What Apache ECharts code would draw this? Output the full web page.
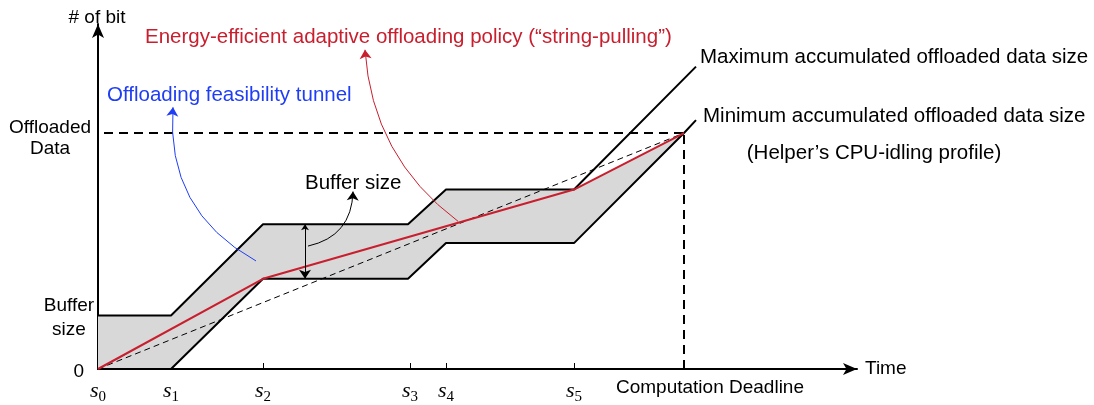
<!DOCTYPE html>
<html>
<head>
<meta charset="utf-8">
<script src="https://cdn.jsdelivr.net/npm/echarts@6/dist/echarts.min.js"></script>
<style>html,body{margin:0;padding:0;background:#fff}#c{width:1094px;height:405px}</style>
</head>
<body>
<div id="c"></div>
<script>
// ---- data (schematic units) ----
const stagePoints = [0, 73, 165, 312, 348, 476];      // s0..s5
const stageIndex  = ['0', '1', '2', '3', '4', '5'];
const deadline = 586;
const bufferSize = 54;
const offloadedData = 238;
const maxCurve = [[0, 54], [73, 54], [165, 146], [310, 146], [348, 181], [476, 181], [598, 305]];
const minCurve = [[0, 0], [73, 0], [165, 91], [310, 91], [348, 127], [476, 127], [586, 238], [598, 251]];
const policy   = [[0, 0], [165, 91], [476, 181], [586, 238]];
const straight = [[0, 0], [586, 238]];
const yLabels = ['0', 'Buffer\nsize', 'Offloaded\nData'];

const FONT = "'Liberation Sans', Arial, Helvetica, sans-serif";
const RED = '#c81e2d';
const BLUE = '#1f3df5';
const BIG = '20.5px ';
const MID = '19px ';

const chart = echarts.init(document.getElementById('c'), null, {renderer: 'canvas'});

// tunnel polygon: upper edge = max curve up to s5 then the policy to the deadline; lower edge = min curve to deadline
const upperEdge = maxCurve.filter(p => p[0] <= stagePoints[5]).concat([policy[policy.length - 1]]);
const lowerEdge = minCurve.filter(p => p[0] <= deadline);

const option = {
  animation: false,
  grid: {left: 98, right: 237, top: 24, bottom: 33, containLabel: false},
  xAxis: {
    type: 'value', min: 0, max: 759,
    splitLine: {show: false},
    axisLine: {show: true, lineStyle: {color: '#000', width: 2}, symbol: ['none', 'arrow'], symbolSize: [9, 14]},
    axisTick: {show: true, inside: true, length: 6, lineStyle: {color: '#000', width: 1}, customValues: stagePoints.slice(1)},
    axisLabel: {
      show: true, margin: 8, hideOverlap: false,
      customValues: stagePoints,
      formatter: function (v) {
        const i = stagePoints.indexOf(v);
        return '{s|s}{sub|' + stageIndex[i] + '}';
      },
      rich: {
        s: {fontFamily: "'Liberation Serif', 'DejaVu Serif', serif", fontStyle: 'italic', fontSize: 22, lineHeight: 28, color: '#000'},
        sub: {fontFamily: "'Liberation Serif', 'DejaVu Serif', serif", fontSize: 15, lineHeight: 20, verticalAlign: 'bottom', color: '#000'}
      }
    },
    name: 'Time', nameLocation: 'end', nameGap: 8,
    nameTextStyle: {fontFamily: FONT, fontSize: 19, color: '#000', verticalAlign: 'middle', align: 'left'}
  },
  yAxis: {
    type: 'value', min: 0, max: 348,
    splitLine: {show: false},
    axisLine: {show: true, lineStyle: {color: '#000', width: 2}, symbol: ['none', 'arrow'], symbolSize: [9, 14]},
    axisTick: {show: false},
    axisLabel: {show: false}
  },
  series: [
    {
      type: 'custom', z: 1, silent: true,
      data: [0],
      renderItem: function (params, api) {
        const pts = upperEdge.map(p => api.coord(p)).concat(lowerEdge.slice().reverse().map(p => api.coord(p)));
        return {type: 'polygon', shape: {points: pts}, style: {fill: '#d8d8d8', stroke: null}};
      }
    },
    {
      type: 'line', z: 2, data: [[0, offloadedData], [deadline, offloadedData]], symbol: 'none',
      lineStyle: {color: '#000', width: 2, type: [9, 6], dashOffset: 9}
    },
    {
      type: 'line', z: 2, data: [[deadline, 0], [deadline, offloadedData]], symbol: 'none',
      lineStyle: {color: '#000', width: 2, type: [9, 6]}
    },
    {
      type: 'line', z: 3, data: straight, symbol: 'none',
      lineStyle: {color: '#000', width: 1, type: [6, 4]}
    },
    {type: 'line', z: 4, data: maxCurve, symbol: 'none', lineStyle: {color: '#000', width: 2}},
    {type: 'line', z: 4, data: minCurve, symbol: 'none', lineStyle: {color: '#000', width: 2}},
    {type: 'line', z: 5, data: policy, symbol: 'none', lineStyle: {color: RED, width: 2}},
    {
      type: 'lines', coordinateSystem: 'cartesian2d', z: 6, polyline: false,
      symbol: ['none', 'arrow'], symbolSize: [6, 9],
      data: [
        {coords: [[158, 109], [75, 264]], lineStyle: {color: BLUE, width: 1, opacity: 1, curveness: 0.32}},
        {coords: [[360, 149], [267, 322]], lineStyle: {color: RED, width: 1, opacity: 1, curveness: 0.23}},
        {coords: [[210, 124], [255, 179]], lineStyle: {color: '#000', width: 1, opacity: 1, curveness: -0.39}}
      ]
    },
    {
      type: 'lines', coordinateSystem: 'cartesian2d', z: 6, polyline: false,
      symbol: ['arrow', 'arrow'], symbolSize: [6, 9],
      data: [
        {coords: [[207, 146], [207, 91]], lineStyle: {color: '#000', width: 1, opacity: 1}}
      ]
    }
  ],
  graphic: [
    {type: 'text', x: 97, y: 18, style: {text: '# of bit', font: MID + FONT, fill: '#000', align: 'center', verticalAlign: 'middle'}},
    {type: 'text', x: 145, y: 37, style: {text: 'Energy-efficient adaptive offloading policy (\u201cstring-pulling\u201d)', font: BIG + FONT, fill: RED, align: 'left', verticalAlign: 'middle'}},
    {type: 'text', x: 107, y: 95, style: {text: 'Offloading feasibility tunnel', font: BIG + FONT, fill: BLUE, align: 'left', verticalAlign: 'middle'}},
    {type: 'text', x: 305, y: 183, style: {text: 'Buffer size', font: BIG + FONT, fill: '#000', align: 'left', verticalAlign: 'middle'}},
    {type: 'text', x: 50, y: 138, style: {text: yLabels[2], font: MID + FONT, lineHeight: 21, fill: '#000', align: 'center', verticalAlign: 'middle'}},
    {type: 'text', x: 69, y: 318, style: {text: yLabels[1], font: MID + FONT, lineHeight: 24, fill: '#000', align: 'center', verticalAlign: 'middle'}},
    {type: 'text', x: 84, y: 372, style: {text: yLabels[0], font: MID + FONT, fill: '#000', align: 'right', verticalAlign: 'middle'}},
    {type: 'text', x: 710, y: 388, style: {text: 'Computation Deadline', font: MID + FONT, fill: '#000', align: 'center', verticalAlign: 'middle'}},
    {type: 'text', x: 700, y: 57, style: {text: 'Maximum accumulated offloaded data size', font: BIG + FONT, fill: '#000', align: 'left', verticalAlign: 'middle'}},
    {type: 'text', x: 703, y: 116, style: {text: 'Minimum accumulated offloaded data size', font: BIG + FONT, fill: '#000', align: 'left', verticalAlign: 'middle'}},
    {type: 'text', x: 874, y: 153, style: {text: '(Helper\u2019s CPU-idling profile)', font: BIG + FONT, fill: '#000', align: 'center', verticalAlign: 'middle'}}
  ]
};
chart.setOption(option);
</script>
</body>
</html>
